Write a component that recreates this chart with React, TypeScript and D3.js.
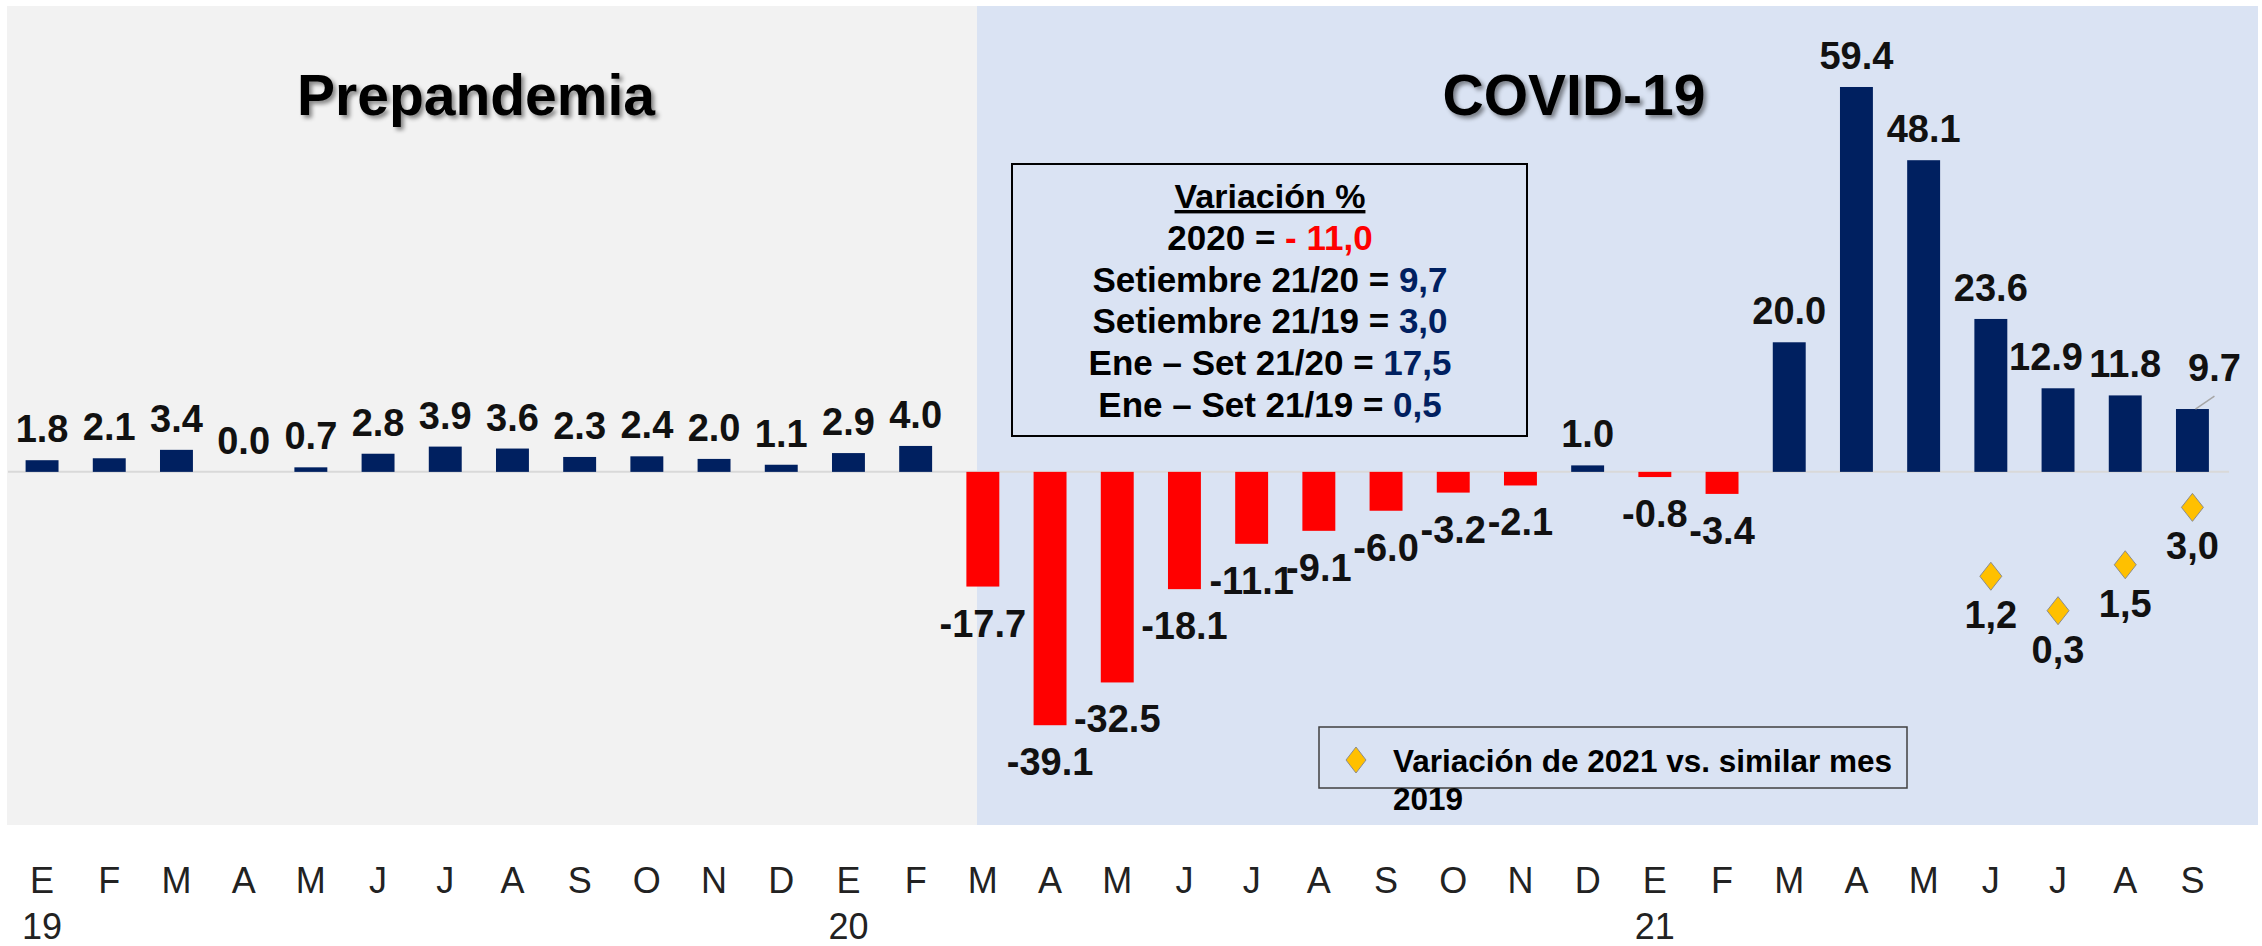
import React, { useRef, useEffect } from 'react';
import * as d3 from 'd3';

// monthly periods, Jan 2019 - Sep 2021
const periods = [
  'Ene-19', 'Feb-19', 'Mar-19', 'Abr-19', 'May-19', 'Jun-19', 'Jul-19', 'Ago-19', 'Set-19', 'Oct-19', 'Nov-19', 'Dic-19',
  'Ene-20', 'Feb-20', 'Mar-20', 'Abr-20', 'May-20', 'Jun-20', 'Jul-20', 'Ago-20', 'Set-20', 'Oct-20', 'Nov-20', 'Dic-20',
  'Ene-21', 'Feb-21', 'Mar-21', 'Abr-21', 'May-21', 'Jun-21', 'Jul-21', 'Ago-21', 'Set-21',
];

const monthLetters = ['E', 'F', 'M', 'A', 'M', 'J', 'J', 'A', 'S', 'O', 'N', 'D',
  'E', 'F', 'M', 'A', 'M', 'J', 'J', 'A', 'S', 'O', 'N', 'D',
  'E', 'F', 'M', 'A', 'M', 'J', 'J', 'A', 'S'];

const yearLabels = ['19', '20', '21'];
const yearStarts = ['Ene-19', 'Ene-20', 'Ene-21'];

// % variation vs same month of previous year
const variation = [
  1.8, 2.1, 3.4, 0.0, 0.7, 2.8, 3.9, 3.6, 2.3, 2.4, 2.0, 1.1,
  2.9, 4.0, -17.7, -39.1, -32.5, -18.1, -11.1, -9.1, -6.0, -3.2, -2.1, 1.0,
  -0.8, -3.4, 20.0, 59.4, 48.1, 23.6, 12.9, 11.8, 9.7,
];

// 2021 vs same month of 2019 (secondary axis)
const comparePeriods = ['Jun-21', 'Jul-21', 'Ago-21', 'Set-21'];
const compareValues = [1.2, 0.3, 1.5, 3.0];

const summaryLines = [
  { label: '2020 = ', value: '- 11,0', color: '#FF0000' },
  { label: 'Setiembre 21/20 = ', value: '9,7', color: '#002060' },
  { label: 'Setiembre 21/19 = ', value: '3,0', color: '#002060' },
  { label: 'Ene – Set 21/20 = ', value: '17,5', color: '#002060' },
  { label: 'Ene – Set 21/19 = ', value: '0,5', color: '#002060' },
];

const FONT = 'Liberation Sans, Arial, sans-serif';
const NARROW = 'Liberation Sans Narrow, Liberation Sans, Arial, sans-serif';

export default function App() {
  const svgRef = useRef<SVGSVGElement>(null);
  const width = 2262;
  const height = 946;
  const plotTop = 6;
  const plotBottom = 825;

  useEffect(() => {
    const svg = d3.select(svgRef.current);
    svg.selectAll('*').remove();

    const x = d3.scaleBand<string>()
      .domain(periods)
      .range([-8, 2242.5])
      .paddingInner(0.51)
      .paddingOuter(0.5);

    const y = d3.scaleLinear().domain([-54.5, 71.9]).range([plotBottom, plotTop]);
    const y2 = d3.scaleLinear().domain([-5.3, 16.1]).range([plotBottom, plotTop]);

    const defs = svg.append('defs');
    const shadow = defs.append('filter').attr('id', 'shadow')
      .attr('x', '-10%').attr('y', '-10%').attr('width', '130%').attr('height', '140%');
    shadow.append('feDropShadow')
      .attr('dx', 3).attr('dy', 3).attr('stdDeviation', 2)
      .attr('flood-color', '#000').attr('flood-opacity', 0.45);

    // background periods
    const split = 977;
    svg.append('rect')
      .attr('x', 7).attr('y', plotTop)
      .attr('width', split - 7).attr('height', plotBottom - plotTop)
      .attr('fill', '#F2F2F2');
    svg.append('rect')
      .attr('x', split).attr('y', plotTop)
      .attr('width', 2258 - split).attr('height', plotBottom - plotTop)
      .attr('fill', '#DAE3F3');

    // section titles
    svg.append('text')
      .attr('x', 476).attr('y', 115)
      .attr('text-anchor', 'middle')
      .attr('font-family', FONT).attr('font-weight', 'bold').attr('font-size', 57)
      .attr('fill', '#000').attr('filter', 'url(#shadow)')
      .text('Prepandemia');
    svg.append('text')
      .attr('x', 1574).attr('y', 115)
      .attr('text-anchor', 'middle')
      .attr('font-family', FONT).attr('font-weight', 'bold').attr('font-size', 57)
      .attr('fill', '#000').attr('filter', 'url(#shadow)')
      .text('COVID-19');

    // zero line
    svg.append('line')
      .attr('x1', 8).attr('x2', 2229)
      .attr('y1', y(0)).attr('y2', y(0))
      .attr('stroke', '#D9D9D9').attr('stroke-width', 2);

    const data = periods.map((p, i) => ({ period: p, value: variation[i] }));

    // bars
    svg.append('g')
      .selectAll('rect')
      .data(data)
      .join('rect')
      .attr('x', d => x(d.period)!)
      .attr('width', x.bandwidth())
      .attr('y', d => Math.min(y(d.value), y(0)))
      .attr('height', d => Math.abs(y(d.value) - y(0)))
      .attr('fill', d => d.value < 0 ? '#FF0000' : '#002060');

    // label tweaks where Excel moved them
    const labelShift: Record<string, [number, number]> = {
      'Jul-21': [-12, 0],
      'Set-21': [22, -10],
    };

    const fmt = (v: number) => v.toFixed(1);
    svg.append('g')
      .selectAll('text')
      .data(data)
      .join('text')
      .attr('x', d => x(d.period)! + x.bandwidth() / 2 + (labelShift[d.period]?.[0] ?? 0))
      .attr('y', d => (d.value < 0 ? y(d.value) + 50 : y(d.value) - 18) + (labelShift[d.period]?.[1] ?? 0))
      .attr('text-anchor', 'middle')
      .attr('font-family', FONT).attr('font-weight', 'bold').attr('font-size', 38)
      .attr('fill', '#111')
      .text(d => fmt(d.value));

    // leader line for the last label
    const last = data[data.length - 1];
    svg.append('line')
      .attr('x1', x(last.period)! + x.bandwidth() / 2 + 3)
      .attr('y1', y(last.value))
      .attr('x2', x(last.period)! + x.bandwidth() / 2 + 22)
      .attr('y2', y(last.value) - 13)
      .attr('stroke', '#A6A6A6').attr('stroke-width', 1.5);

    // diamonds (2021 vs 2019)
    const diamond = (cx: number, cy: number, w = 22, h = 28) =>
      `M${cx},${cy - h / 2}L${cx + w / 2},${cy}L${cx},${cy + h / 2}L${cx - w / 2},${cy}Z`;

    const cmp = comparePeriods.map((p, i) => ({ period: p, value: compareValues[i] }));
    svg.append('g')
      .selectAll('path')
      .data(cmp)
      .join('path')
      .attr('d', d => diamond(x(d.period)! + x.bandwidth() / 2, y2(d.value)))
      .attr('fill', '#FFC000')
      .attr('stroke', '#8C8C8C').attr('stroke-width', 1);

    svg.append('g')
      .selectAll('text')
      .data(cmp)
      .join('text')
      .attr('x', d => x(d.period)! + x.bandwidth() / 2)
      .attr('y', d => y2(d.value) + 52)
      .attr('text-anchor', 'middle')
      .attr('font-family', FONT).attr('font-weight', 'bold').attr('font-size', 38)
      .attr('fill', '#111')
      .text(d => fmt(d.value).replace('.', ','));

    // x axis: month letters and years
    svg.append('g')
      .selectAll('text')
      .data(periods)
      .join('text')
      .attr('x', d => x(d)! + x.bandwidth() / 2)
      .attr('y', 893)
      .attr('text-anchor', 'middle')
      .attr('font-family', NARROW).attr('font-size', 36)
      .attr('fill', '#222')
      .text((d, i) => monthLetters[i]);

    svg.append('g')
      .selectAll('text')
      .data(yearStarts)
      .join('text')
      .attr('x', d => x(d)! + x.bandwidth() / 2)
      .attr('y', 939)
      .attr('text-anchor', 'middle')
      .attr('font-family', NARROW).attr('font-size', 36)
      .attr('fill', '#222')
      .text((d, i) => yearLabels[i]);

    // summary box
    svg.append('rect')
      .attr('x', 1012).attr('y', 164).attr('width', 515).attr('height', 272)
      .attr('fill', 'none').attr('stroke', '#000').attr('stroke-width', 2);

    svg.append('text')
      .attr('x', 1270).attr('y', 208)
      .attr('text-anchor', 'middle')
      .attr('font-family', FONT).attr('font-weight', 'bold').attr('font-size', 34)
      .attr('text-decoration', 'underline')
      .attr('fill', '#000')
      .text('Variación %');

    summaryLines.forEach((l, i) => {
      const t = svg.append('text')
        .attr('x', 1270).attr('y', 250 + i * 41.7)
        .attr('text-anchor', 'middle')
        .attr('font-family', FONT).attr('font-weight', 'bold').attr('font-size', 35)
        .attr('fill', '#000')
        .attr('xml:space', 'preserve');
      t.append('tspan').text(l.label);
      t.append('tspan').attr('fill', l.color).text(l.value);
    });

    // legend
    svg.append('rect')
      .attr('x', 1319).attr('y', 727).attr('width', 588).attr('height', 61)
      .attr('fill', 'none').attr('stroke', '#404040').attr('stroke-width', 1.5);
    svg.append('path')
      .attr('d', diamond(1356, 760, 20, 26))
      .attr('fill', '#FFC000').attr('stroke', '#8C8C8C').attr('stroke-width', 1);
    svg.append('text')
      .attr('x', 1393).attr('y', 772)
      .attr('font-family', FONT).attr('font-weight', 'bold').attr('font-size', 31.5)
      .attr('fill', '#000')
      .text('Variación de 2021 vs. similar mes');
    svg.append('text')
      .attr('x', 1393).attr('y', 810)
      .attr('font-family', FONT).attr('font-weight', 'bold').attr('font-size', 31.5)
      .attr('fill', '#000')
      .text('2019');
  }, []);

  return (
    <svg
      ref={svgRef}
      width={width}
      height={height}
      style={{ position: 'absolute', left: 0, top: 0, display: 'block', background: '#fff' }}
    />
  );
}
